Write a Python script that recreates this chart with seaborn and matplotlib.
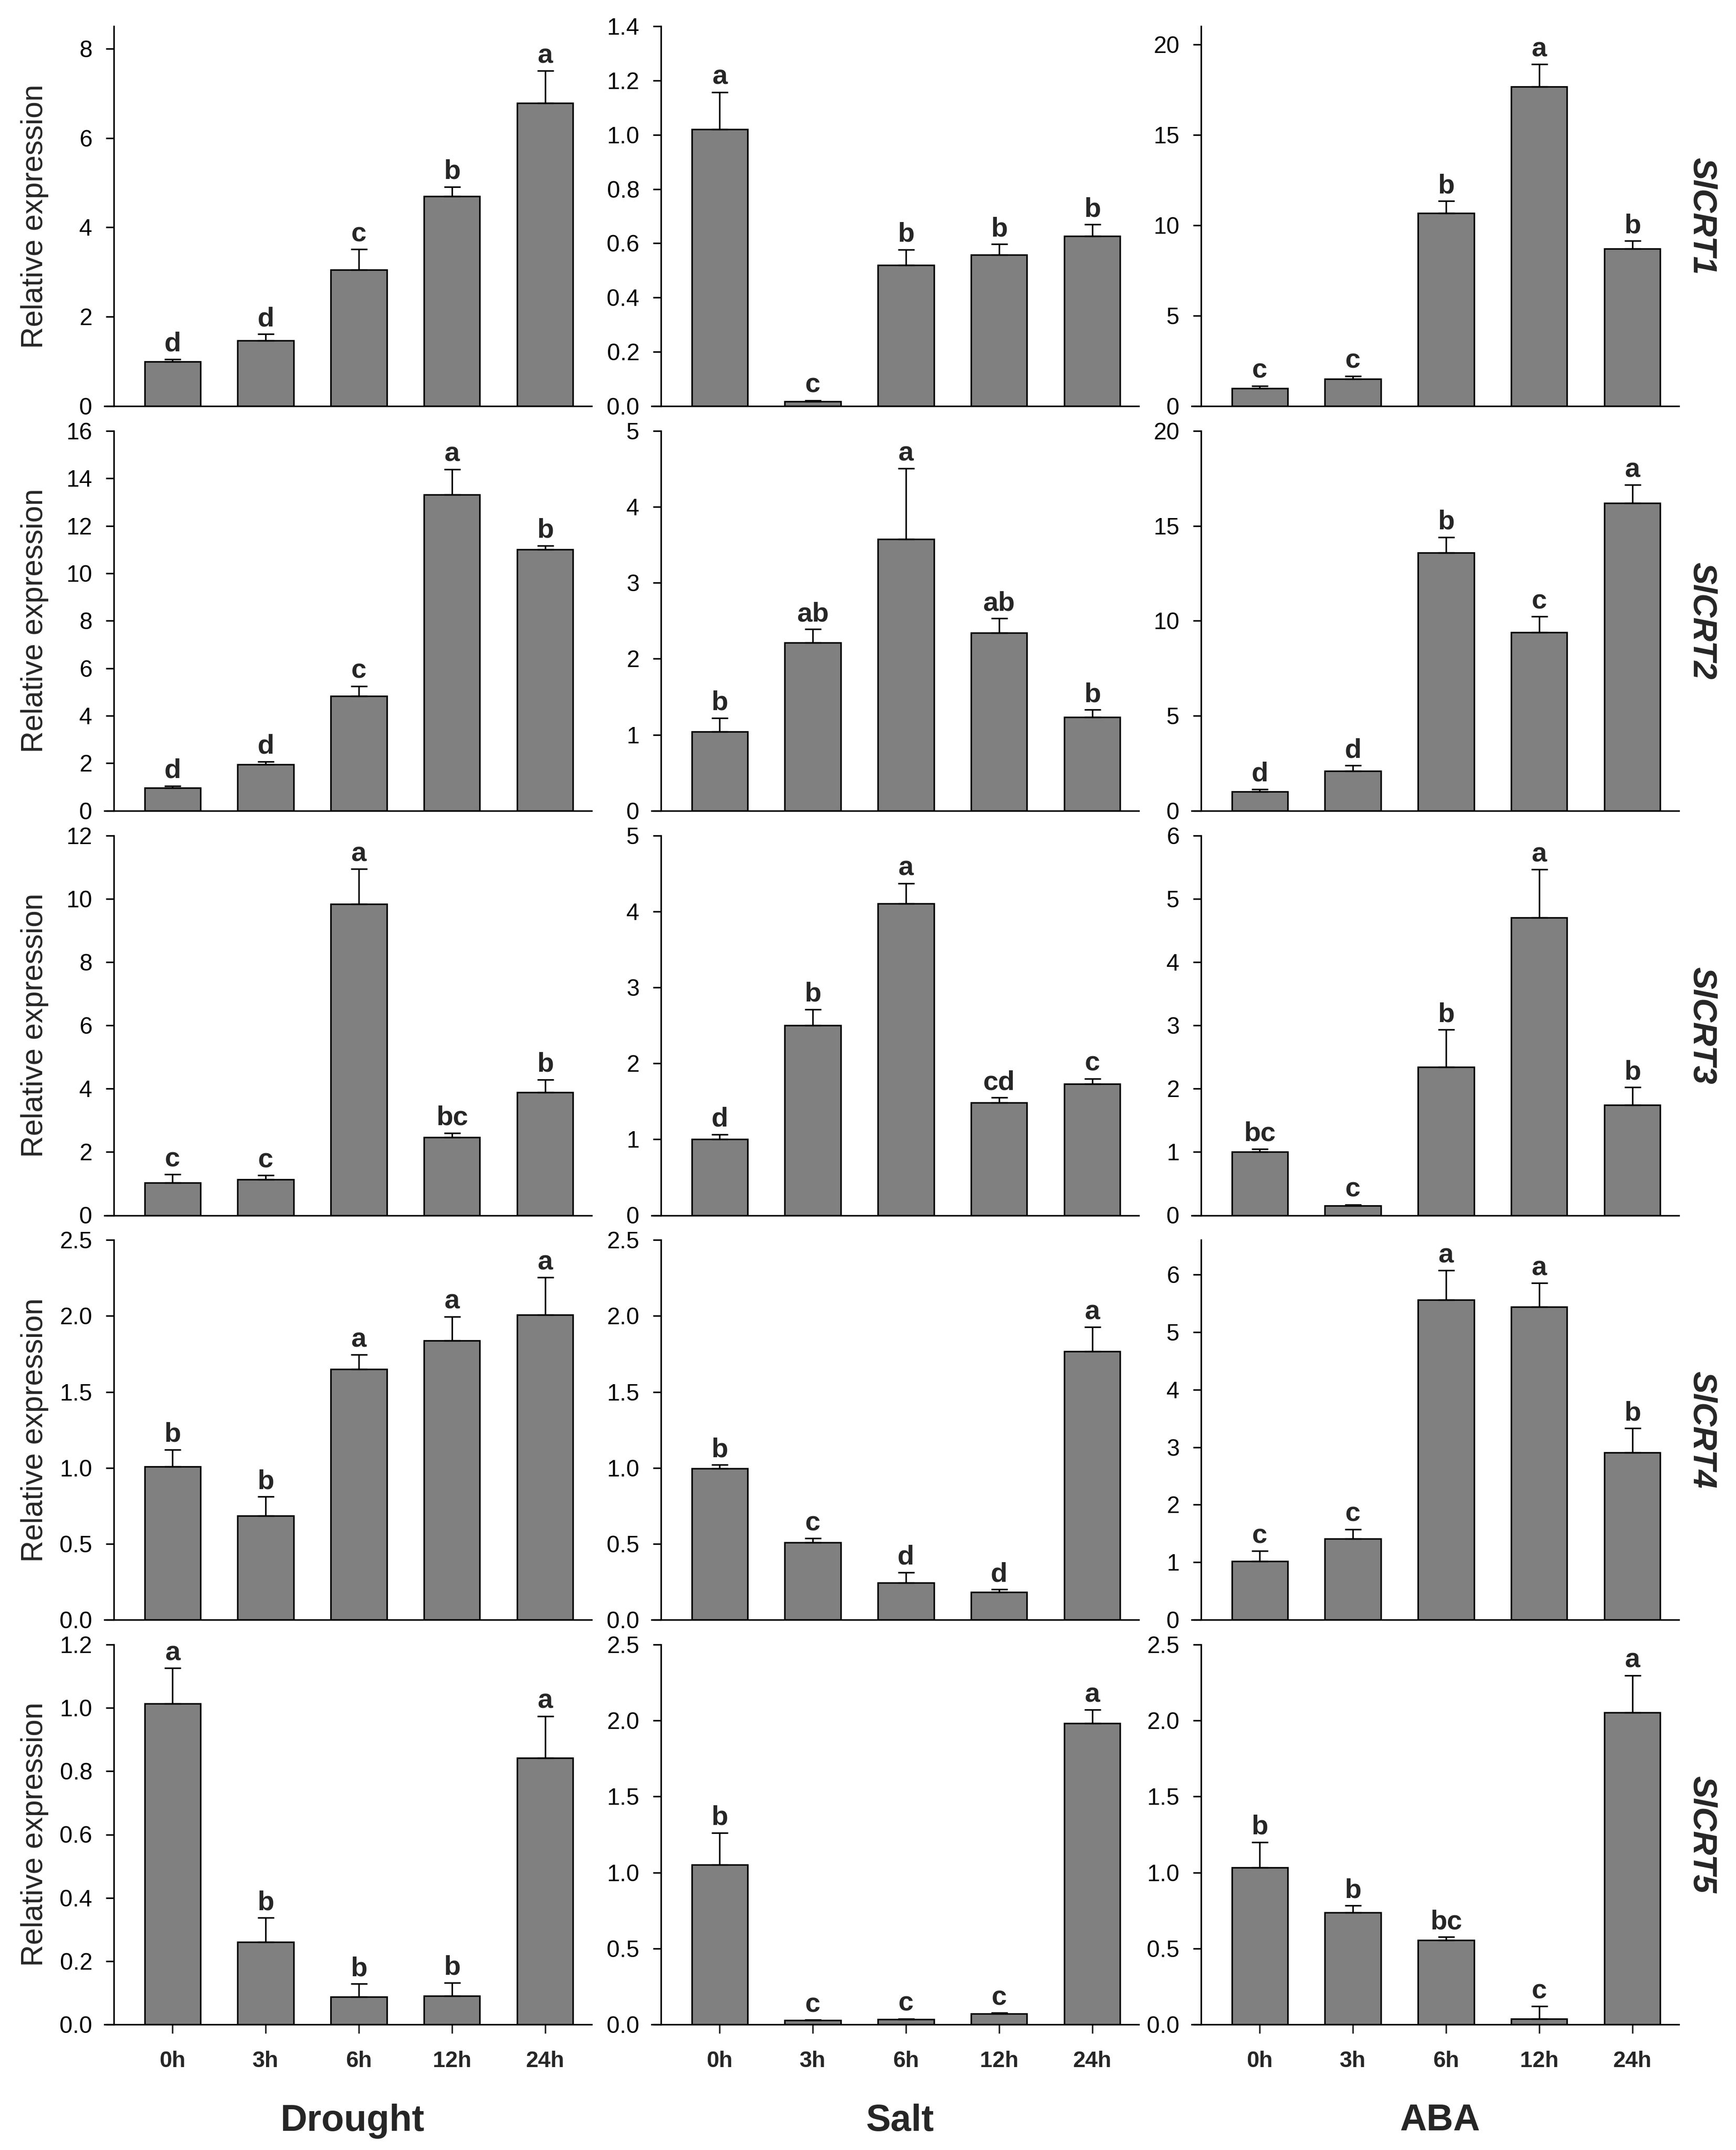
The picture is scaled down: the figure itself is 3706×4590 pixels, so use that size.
import numpy as np
import pandas as pd
import seaborn as sns
import matplotlib.pyplot as plt
from matplotlib.ticker import FormatStrFormatter

times = ["0h", "3h", "6h", "12h", "24h"]
treatments = ["Drought", "Salt", "ABA"]
genes = ["SlCRT1", "SlCRT2", "SlCRT3", "SlCRT4", "SlCRT5"]

# SlCRT1
crt1_drought = [1.00, 1.47, 3.05, 4.70, 6.78]
crt1_drought_se = [0.05, 0.14, 0.46, 0.21, 0.72]
crt1_drought_sig = ["d", "d", "c", "b", "a"]
crt1_salt = [1.02, 0.018, 0.52, 0.557, 0.627]
crt1_salt_se = [0.137, 0.003, 0.057, 0.040, 0.042]
crt1_salt_sig = ["a", "c", "b", "b", "b"]
crt1_aba = [0.98, 1.49, 10.66, 17.65, 8.70]
crt1_aba_se = [0.14, 0.18, 0.68, 1.25, 0.44]
crt1_aba_sig = ["c", "c", "b", "a", "b"]

# SlCRT2
crt2_drought = [0.97, 1.94, 4.82, 13.32, 11.01]
crt2_drought_se = [0.08, 0.13, 0.43, 1.06, 0.16]
crt2_drought_sig = ["d", "d", "c", "a", "b"]
crt2_salt = [1.04, 2.21, 3.575, 2.34, 1.233]
crt2_salt_se = [0.18, 0.18, 0.93, 0.19, 0.097]
crt2_salt_sig = ["b", "ab", "a", "ab", "b"]
crt2_aba = [1.00, 2.10, 13.58, 9.40, 16.20]
crt2_aba_se = [0.13, 0.28, 0.82, 0.82, 0.95]
crt2_aba_sig = ["d", "d", "b", "c", "a"]

# SlCRT3
crt3_drought = [1.03, 1.13, 9.83, 2.47, 3.89]
crt3_drought_se = [0.26, 0.13, 1.11, 0.13, 0.40]
crt3_drought_sig = ["c", "c", "a", "bc", "b"]
crt3_salt = [1.00, 2.50, 4.10, 1.48, 1.73]
crt3_salt_se = [0.065, 0.21, 0.27, 0.07, 0.07]
crt3_salt_sig = ["d", "b", "a", "cd", "c"]
crt3_aba = [1.00, 0.153, 2.34, 4.70, 1.745]
crt3_aba_se = [0.05, 0.017, 0.59, 0.76, 0.275]
crt3_aba_sig = ["bc", "c", "b", "a", "b"]

# SlCRT4
crt4_drought = [1.01, 0.684, 1.65, 1.837, 2.009]
crt4_drought_se = [0.11, 0.126, 0.094, 0.159, 0.244]
crt4_drought_sig = ["b", "b", "a", "a", "a"]
crt4_salt = [0.997, 0.509, 0.244, 0.182, 1.767]
crt4_salt_se = [0.023, 0.028, 0.069, 0.018, 0.159]
crt4_salt_sig = ["b", "c", "d", "d", "a"]
crt4_aba = [1.016, 1.41, 5.56, 5.44, 2.91]
crt4_aba_se = [0.182, 0.166, 0.51, 0.41, 0.42]
crt4_aba_sig = ["c", "c", "a", "a", "b"]

# SlCRT5
crt5_drought = [1.014, 0.261, 0.088, 0.090, 0.842]
crt5_drought_se = [0.112, 0.076, 0.040, 0.042, 0.132]
crt5_drought_sig = ["a", "b", "b", "b", "a"]
crt5_salt = [1.051, 0.027, 0.034, 0.070, 1.982]
crt5_salt_se = [0.210, 0.003, 0.004, 0.007, 0.088]
crt5_salt_sig = ["b", "c", "c", "c", "a"]
crt5_aba = [1.033, 0.737, 0.556, 0.036, 2.052]
crt5_aba_se = [0.167, 0.045, 0.020, 0.084, 0.245]
crt5_aba_sig = ["b", "b", "bc", "c", "a"]

panels = [
    [(crt1_drought, crt1_drought_se, crt1_drought_sig),
     (crt1_salt, crt1_salt_se, crt1_salt_sig),
     (crt1_aba, crt1_aba_se, crt1_aba_sig)],
    [(crt2_drought, crt2_drought_se, crt2_drought_sig),
     (crt2_salt, crt2_salt_se, crt2_salt_sig),
     (crt2_aba, crt2_aba_se, crt2_aba_sig)],
    [(crt3_drought, crt3_drought_se, crt3_drought_sig),
     (crt3_salt, crt3_salt_se, crt3_salt_sig),
     (crt3_aba, crt3_aba_se, crt3_aba_sig)],
    [(crt4_drought, crt4_drought_se, crt4_drought_sig),
     (crt4_salt, crt4_salt_se, crt4_salt_sig),
     (crt4_aba, crt4_aba_se, crt4_aba_sig)],
    [(crt5_drought, crt5_drought_se, crt5_drought_sig),
     (crt5_salt, crt5_salt_se, crt5_salt_sig),
     (crt5_aba, crt5_aba_se, crt5_aba_sig)],
]

# y axis top and tick step for each panel
y_tops = [[8.5, 1.4, 21], [16, 5, 20], [12, 5, 6], [2.5, 2.5, 6.6], [1.2, 2.5, 2.5]]
y_steps = [[2, 0.2, 5], [2, 1, 5], [2, 1, 1], [0.5, 0.5, 1], [0.2, 0.5, 0.5]]

sns.set_style("ticks")
plt.rcParams["font.family"] = ["Liberation Sans", "DejaVu Sans"]

W, H = 3706, 4590
fig = plt.figure(figsize=(W / 300, H / 300), dpi=300)

col_left = [243, 1411, 2564]
ax_w = 1020
ax_h = 811
row_top0 = 56
row_pitch = 863.75
x_lo, x_hi = -0.63, 4.5

for r in range(5):
    top = row_top0 + r * row_pitch
    for c in range(3):
        means, se, sig = panels[r][c]
        ax = fig.add_axes([col_left[c] / W, 1 - (top + ax_h) / H, ax_w / W, ax_h / H])
        df = pd.DataFrame({"time": times, "expr": means})
        sns.barplot(data=df, x="time", y="expr", color="#808080", saturation=1,
                    edgecolor="black", linewidth=0.8, width=0.6, errorbar=None, ax=ax)
        ax.errorbar(range(5), means, yerr=[np.zeros(5), se], fmt="none",
                    ecolor="black", elinewidth=0.8, capsize=4.2, capthick=0.8)
        for i, (m, e, s) in enumerate(zip(means, se, sig)):
            ax.annotate(s, xy=(i, m + e), xytext=(0, 1.2), textcoords="offset points",
                        ha="center", va="bottom", fontsize=14, fontweight="bold")
        ax.set_xlim(x_lo, x_hi)
        ax.set_ylim(0, y_tops[r][c])
        step = y_steps[r][c]
        ax.set_yticks(np.arange(0, y_tops[r][c] + step * 0.01, step))
        ax.yaxis.set_major_formatter(FormatStrFormatter("%.1f" if step < 1 else "%d"))
        sns.despine(ax=ax)
        for side in ["left", "bottom"]:
            ax.spines[side].set_linewidth(0.8)
            ax.spines[side].set_color("black")
        # the x axis line runs a little past the y axis, as in the original
        ax.spines["bottom"].set_bounds(x_lo - 0.1, x_hi)
        ax.tick_params(axis="y", direction="out", length=4, width=0.8, pad=7,
                       labelsize=12, colors="black")
        if r == 4:
            ax.tick_params(axis="x", direction="out", length=4.5, width=0.8, pad=9,
                           labelsize=11.5)
            for lab in ax.get_xticklabels():
                lab.set_fontweight("bold")
        else:
            ax.tick_params(axis="x", length=0, labelbottom=False)
        ax.set_xlabel("")
        if c == 0:
            ax.set_ylabel("Relative expression", fontsize=15.5)
            ax.yaxis.set_label_coords(-0.136, 0.5)
        else:
            ax.set_ylabel("")
    fig.text(3633 / W, 1 - (top + ax_h / 2) / H, genes[r], rotation=270,
             ha="center", va="center", fontsize=17, fontweight="bold", style="italic")

for c in range(3):
    fig.text((col_left[c] + ax_w / 2) / W, 1 - 4528 / H, treatments[c],
             ha="center", va="center", fontsize=19, fontweight="bold")

fig.savefig("out.png", dpi=300)
